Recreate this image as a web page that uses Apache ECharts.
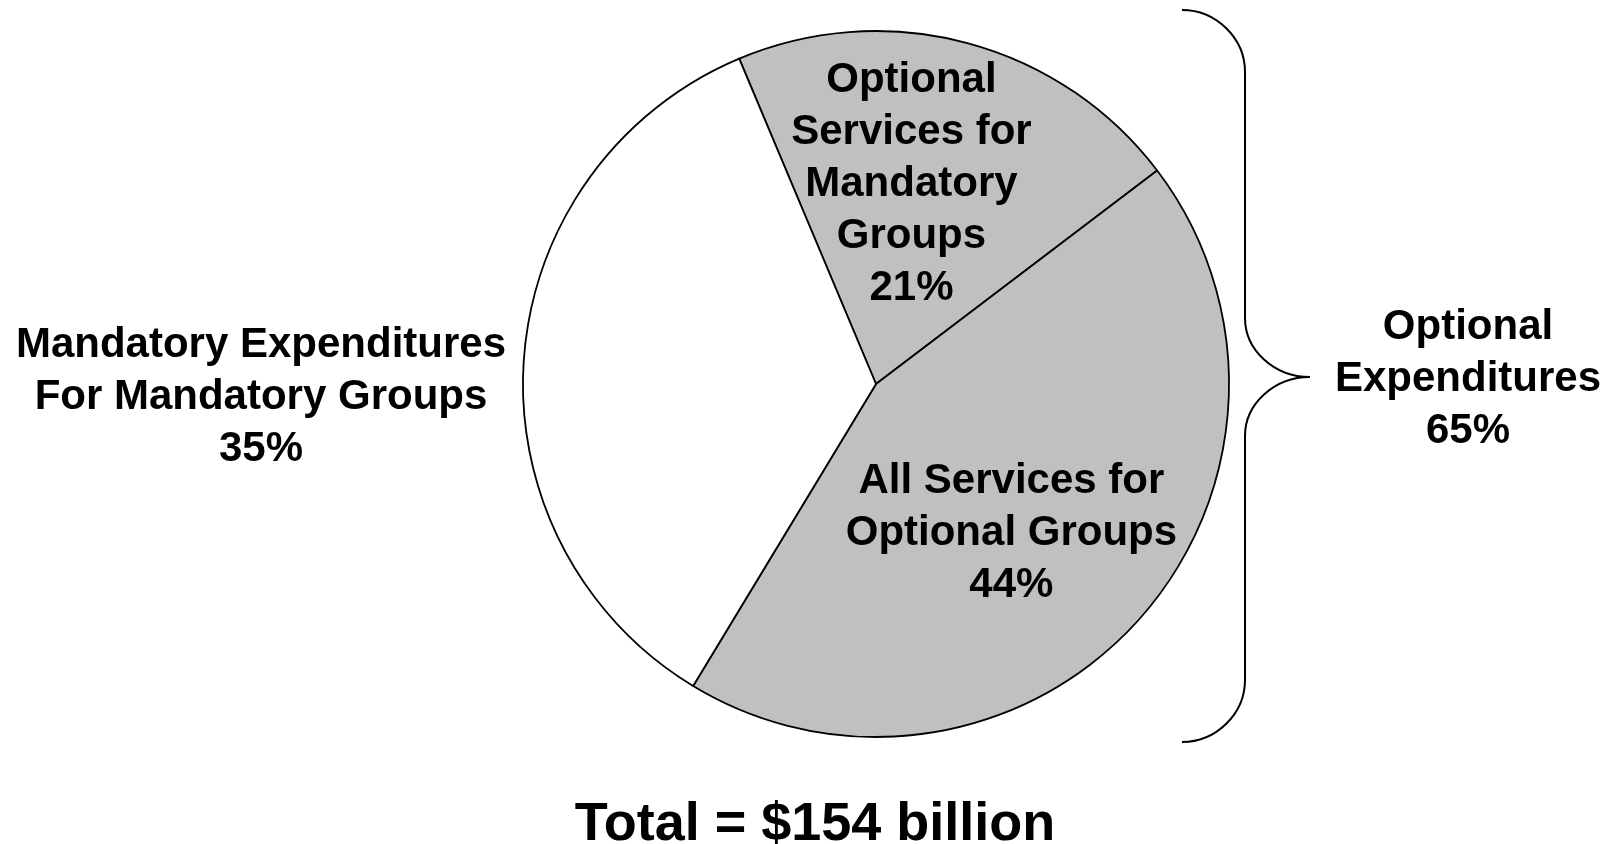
<!DOCTYPE html>
<html>
<head>
<meta charset="utf-8">
<script src="https://cdn.jsdelivr.net/npm/echarts@6/dist/echarts.min.js"></script>
<style>
html,body{margin:0;padding:0;background:#fff;}
#chart{width:1610px;height:844px;}
</style>
</head>
<body>
<div id="chart"></div>
<script>
// ---- data ----
const categories = [
  'Optional\nServices for\nMandatory\nGroups',
  'All Services for\nOptional Groups',
  'Mandatory Expenditures\nFor Mandatory Groups'
];
const values = [21, 44, 35];
const sliceColors = ['#C0C0C0', '#C0C0C0', '#FFFFFF'];
const bracketLabel = 'Optional\nExpenditures';
const bracketValue = values[0] + values[1];
const totalLabel = 'Total = $154 billion';

// ---- layout / style ----
const FONT = '"Liberation Sans", Arial, Helvetica, sans-serif';
const labelShift = [[-11, -26], [2, 29], [-436, 27]];
const braceStyle = {stroke: '#000', lineWidth: 2, fill: null};

function curve(x1, y1, c1x, c1y, c2x, c2y, x2, y2) {
  return {type: 'bezierCurve', silent: true,
    shape: {x1: x1, y1: y1, cpx1: c1x, cpy1: c1y, cpx2: c2x, cpy2: c2y, x2: x2, y2: y2},
    style: braceStyle};
}
function seg(x1, y1, x2, y2) {
  return {type: 'line', silent: true, shape: {x1: x1, y1: y1, x2: x2, y2: y2}, style: braceStyle};
}

const chart = echarts.init(document.getElementById('chart'), null, {renderer: 'canvas'});

chart.setOption({
  backgroundColor: '#ffffff',
  animation: false,
  series: [{
    type: 'pie',
    center: [876, 384],
    radius: 353,
    startAngle: 112.8,
    clockwise: true,
    silent: true,
    avoidLabelOverlap: false,
    itemStyle: {borderColor: '#000', borderWidth: 1.8},
    label: {
      show: true,
      position: 'inside',
      formatter: p => p.name + '\n' + p.value + '%',
      color: '#000',
      fontFamily: FONT,
      fontWeight: 'bold',
      fontSize: 42,
      lineHeight: 52,
      align: 'center',
      verticalAlign: 'middle'
    },
    labelLine: {show: false},
    labelLayout: p => ({dx: labelShift[p.dataIndex][0], dy: labelShift[p.dataIndex][1]}),
    emphasis: {disabled: true},
    data: categories.map((c, i) => ({name: c, value: values[i], itemStyle: {color: sliceColors[i]}}))
  }],
  graphic: [
    curve(1182, 10, 1216, 10, 1245, 38, 1245, 72),
    seg(1245, 72, 1245, 318),
    curve(1245, 318, 1245, 350, 1274, 377, 1310, 377),
    curve(1310, 377, 1274, 377, 1245, 404, 1245, 436),
    seg(1245, 436, 1245, 680),
    curve(1245, 680, 1245, 714, 1216, 742, 1182, 742),
    {
      type: 'text',
      silent: true,
      x: 1468, y: 379,
      style: {
        text: bracketLabel + '\n' + bracketValue + '%',
        font: 'bold 42px ' + FONT,
        lineHeight: 52,
        fill: '#000',
        align: 'center',
        verticalAlign: 'middle'
      }
    },
    {
      type: 'text',
      silent: true,
      x: 815, y: 825,
      style: {
        text: totalLabel,
        font: 'bold 54px ' + FONT,
        fill: '#000',
        align: 'center',
        verticalAlign: 'middle'
      }
    }
  ]
});
</script>
</body>
</html>
